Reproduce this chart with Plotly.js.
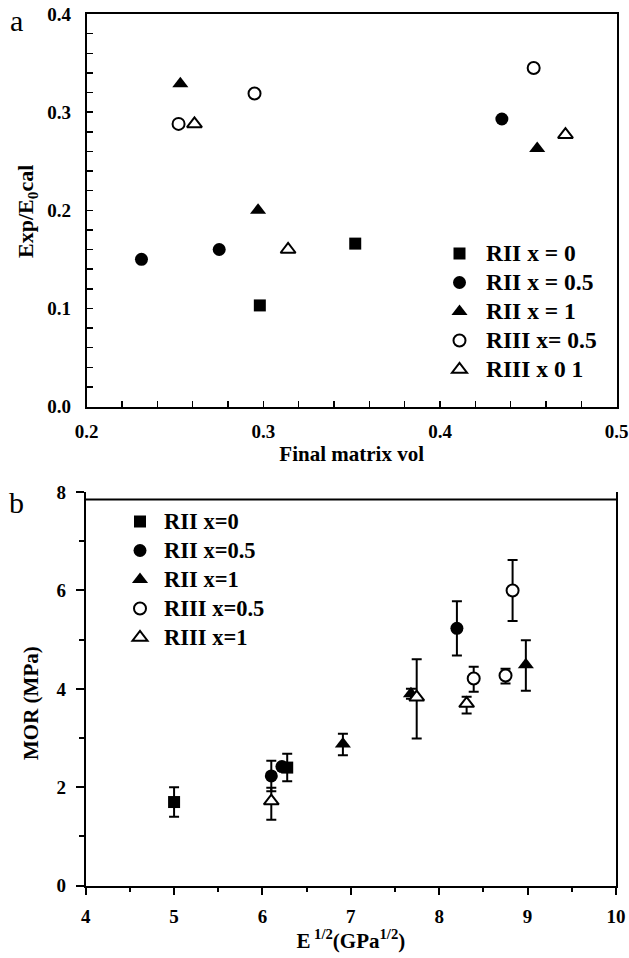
<!DOCTYPE html>
<html>
<head>
<meta charset="utf-8">
<script src="https://cdn.plot.ly/plotly-3.0.1.min.js"></script>
<style>html,body{margin:0;padding:0;background:#fff;}#chart{width:629px;height:958px;}</style>
</head>
<body>
<div id="chart"></div>
<script>
// ---- Panel a data: Exp/E0cal vs final matrix vol ----
const aNames = ["RII x = 0", "RII x = 0.5", "RII x = 1", "RIII x= 0.5", "RIII x 0 1"];
const a_RII0_x = [0.298, 0.352];
const a_RII0_y = [0.103, 0.166];
const a_RII05_x = [0.231, 0.275, 0.435];
const a_RII05_y = [0.150, 0.160, 0.293];
const a_RII1_x = [0.253, 0.297, 0.455];
const a_RII1_y = [0.329, 0.200, 0.263];
const a_RIII05_x = [0.252, 0.295, 0.453];
const a_RIII05_y = [0.288, 0.319, 0.345];
const a_RIII1_x = [0.261, 0.314, 0.471];
const a_RIII1_y = [0.288, 0.160, 0.277];

// ---- Panel b data: MOR vs E^1/2 ----
const bNames = ["RII x=0", "RII x=0.5", "RII x=1", "RIII x=0.5", "RIII x=1"];
const b_RII0_x = [5.0, 6.28];
const b_RII0_y = [1.70, 2.40];
const b_RII0_ep = [0.30, 0.28];
const b_RII0_em = [0.30, 0.28];
const b_RII05_x = [6.10, 6.22, 8.20];
const b_RII05_y = [2.23, 2.42, 5.23];
const b_RII05_ep = [0.31, 0.0, 0.55];
const b_RII05_em = [0.31, 0.0, 0.55];
const b_RII1_x = [6.91, 7.68, 8.98];
const b_RII1_y = [2.88, 3.90, 4.49];
const b_RII1_ep = [0.21, 0.10, 0.50];
const b_RII1_em = [0.23, 0.10, 0.53];
const b_RIII05_x = [8.39, 8.75, 8.83];
const b_RIII05_y = [4.21, 4.27, 6.00];
const b_RIII05_ep = [0.24, 0.14, 0.62];
const b_RIII05_em = [0.27, 0.16, 0.62];
const b_RIII1_x = [6.10, 7.745, 8.31];
const b_RIII1_y = [1.72, 3.83, 3.70];
const b_RIII1_ep = [0.27, 0.77, 0.14];
const b_RIII1_em = [0.38, 0.84, 0.20];

const SERIF = "Liberation Serif, Times New Roman, serif";
const styles = [
  {symbol: "square", size: 12, color: "black", line: {color: "black", width: 0}},
  {symbol: "circle", size: 13, color: "black", line: {color: "black", width: 0}},
  {symbol: "triangle-up", size: 14, color: "black", line: {color: "black", width: 0}},
  {symbol: "circle", size: 12, color: "white", line: {color: "black", width: 2}},
  {symbol: "triangle-up", size: 13, color: "white", line: {color: "black", width: 2}}
];

const aX = [a_RII0_x, a_RII05_x, a_RII1_x, a_RIII05_x, a_RIII1_x];
const aY = [a_RII0_y, a_RII05_y, a_RII1_y, a_RIII05_y, a_RIII1_y];
const bX = [b_RII0_x, b_RII05_x, b_RII1_x, b_RIII05_x, b_RIII1_x];
const bY = [b_RII0_y, b_RII05_y, b_RII1_y, b_RIII05_y, b_RIII1_y];
const bEp = [b_RII0_ep, b_RII05_ep, b_RII1_ep, b_RIII05_ep, b_RIII1_ep];
const bEm = [b_RII0_em, b_RII05_em, b_RII1_em, b_RIII05_em, b_RIII1_em];

const bigName = (s, px) => '<span style="font-size:' + px + 'px">' + s + '</span>';

const traces = [];
for (let i = 0; i < 5; i++) {
  traces.push({
    type: "scatter", mode: "markers", name: bigName(aNames[i], 23.5),
    x: aX[i], y: aY[i], xaxis: "x", yaxis: "y",
    marker: styles[i], legend: "legend", cliponaxis: false
  });
}
for (let i = 0; i < 5; i++) {
  traces.push({
    type: "scatter", mode: "markers", name: bigName(bNames[i], 22.5),
    x: bX[i], y: bY[i], xaxis: "x2", yaxis: "y2",
    marker: styles[i], legend: "legend2", cliponaxis: false,
    error_y: {type: "data", symmetric: false, array: bEp[i], arrayminus: bEm[i],
              color: "black", thickness: 2, width: 5}
  });
}

const tickFont = {family: SERIF, size: 19, color: "black", weight: "bold"};
const titleFont = {family: SERIF, size: 21, color: "black", weight: "bold"};
const legFont = {family: SERIF, size: 20, color: "black", weight: "bold"};

const layout = {
  width: 629, height: 958,
  margin: {l: 0, r: 0, t: 0, b: 0},
  paper_bgcolor: "white", plot_bgcolor: "white",
  showlegend: true,
  xaxis: {
    domain: [86.7/629, 616.7/629], anchor: "y",
    range: [0.2, 0.5], dtick: 0.1, tickformat: ".1f",
    showgrid: false, zeroline: false, showline: true, linewidth: 2, linecolor: "black", mirror: true,
    ticks: "inside", ticklen: 6, tickwidth: 1.5, tickcolor: "black",
    minor: {dtick: 0.02, ticks: "inside", ticklen: 6, tickwidth: 1.5, tickcolor: "black", showgrid: false},
    tickfont: tickFont, ticklabelstandoff: 7,
    title: {text: "Final matrix vol", font: titleFont, standoff: 5}
  },
  yaxis: {
    domain: [1 - 406.5/958, 1 - 14/958], anchor: "x",
    range: [0, 0.4], dtick: 0.1, tickformat: ".1f",
    showgrid: false, zeroline: false, showline: true, linewidth: 2, linecolor: "black", mirror: true,
    ticks: "inside", ticklen: 6, tickwidth: 1.5, tickcolor: "black",
    minor: {dtick: 0.02, ticks: "inside", ticklen: 6, tickwidth: 1.5, tickcolor: "black", showgrid: false},
    tickfont: tickFont, ticklabelstandoff: 10
  },
  xaxis2: {
    domain: [85.7/629, 616/629], anchor: "y2",
    range: [4, 10], dtick: 1,
    showgrid: false, zeroline: false, showline: true, linewidth: 2, linecolor: "black", mirror: false,
    ticks: "outside", ticklen: 7, tickwidth: 2, tickcolor: "black",
    minor: {dtick: 0.5, ticks: "outside", ticklen: 4, tickwidth: 2, tickcolor: "black", showgrid: false},
    tickfont: tickFont, ticklabelstandoff: 5,
    title: {text: "E<sup> 1/2</sup>(GPa<sup>1/2</sup>)", font: titleFont, standoff: 8}
  },
  yaxis2: {
    domain: [1 - 885.7/958, 1 - 492/958], anchor: "x2",
    range: [0, 8], dtick: 2,
    showgrid: false, zeroline: false, showline: true, linewidth: 2, linecolor: "black", mirror: true,
    ticks: "outside", ticklen: 8, tickwidth: 2, tickcolor: "black",
    minor: {dtick: 1, ticks: "outside", ticklen: 5, tickwidth: 2, tickcolor: "black", showgrid: false},
    tickfont: tickFont, ticklabelstandoff: 6
  },
  legend: {
    x: 433/629, y: 1 - 234/958, xanchor: "left", yanchor: "top",
    font: legFont, bgcolor: "rgba(0,0,0,0)", borderwidth: 0,
    tracegroupgap: 0, itemwidth: 43, itemclick: false
  },
  legend2: {
    x: 116/629, y: 1 - 502/958, xanchor: "left", yanchor: "top",
    font: legFont, bgcolor: "rgba(0,0,0,0)", borderwidth: 0,
    tracegroupgap: 0, itemwidth: 38, itemclick: false
  },
  shapes: [
    {type: "line", xref: "x2 domain", yref: "y2", x0: 0, x1: 1, y0: 7.85, y1: 7.85,
     line: {color: "black", width: 2}}
  ],
  annotations: [
    {text: "a", xref: "paper", yref: "paper", x: 16/629, y: 1 - 20/958, xanchor: "center", yanchor: "middle",
     showarrow: false, font: {family: SERIF, size: 30, color: "black"}},
    {text: "b", xref: "paper", yref: "paper", x: 16/629, y: 1 - 502/958, xanchor: "center", yanchor: "middle",
     showarrow: false, font: {family: SERIF, size: 30, color: "black"}},
    {text: "Exp/E<sub>0</sub>cal", xref: "paper", yref: "paper", x: 27/629, y: 1 - 212/958,
     xanchor: "center", yanchor: "middle", textangle: -90, showarrow: false, font: {family: SERIF, size: 22, color: "black", weight: "bold"}},
    {text: "MOR (MPa)", xref: "paper", yref: "paper", x: 31/629, y: 1 - 703/958,
     xanchor: "center", yanchor: "middle", textangle: -90, showarrow: false, font: titleFont}
  ]
};

Plotly.newPlot("chart", traces, layout, {displayModeBar: false, staticPlot: true});
</script>
</body>
</html>
